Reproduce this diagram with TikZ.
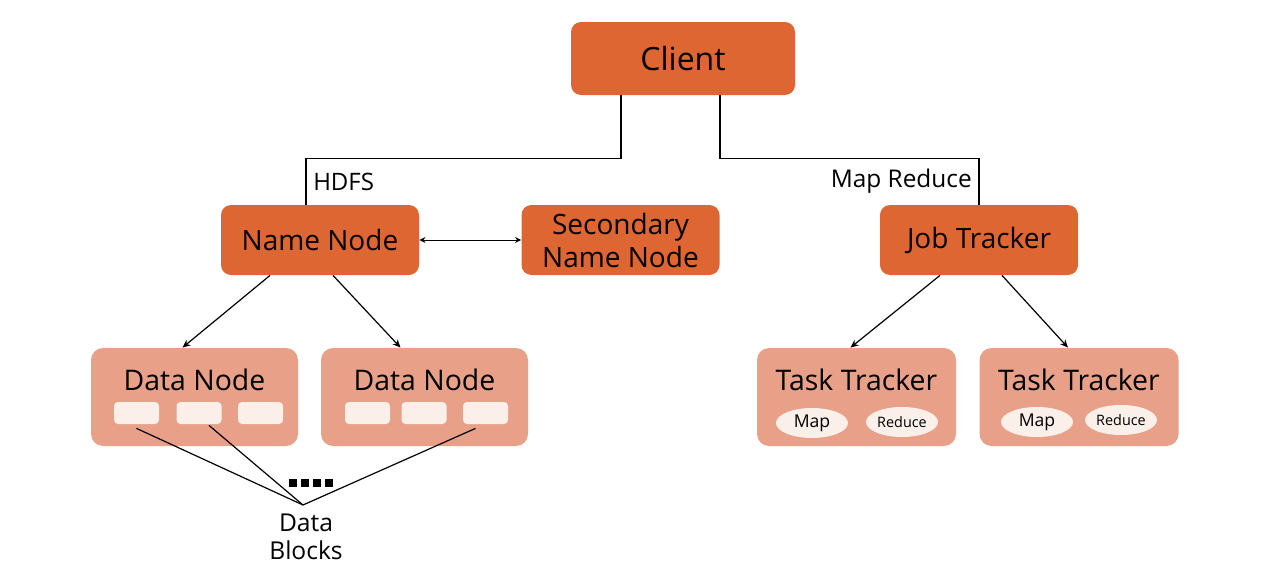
\documentclass[tikz,border=0pt]{standalone}
\usepackage{fontspec}
\setmainfont{Open Sans}
\usepackage{tikz}
\usetikzlibrary{positioning,shapes.geometric,arrows.meta,calc}
\definecolor{hdark}{HTML}{DE6633}
\definecolor{hlight}{HTML}{E8A089}
\definecolor{hpale}{HTML}{FBEFEA}
\tikzset{
  master/.style={draw=none,fill=hdark,rounded corners=5pt,minimum width=99pt,minimum height=35pt,align=center,font=\fontsize{14}{16}\selectfont},
  worker/.style={draw=none,fill=hlight,rounded corners=6pt,minimum width=102pt,minimum height=49pt},
  title/.style={font=\fontsize{14.2}{16}\selectfont},
  block/.style={draw=none,fill=hpale,rounded corners=2pt,minimum width=22.5pt,minimum height=11pt,inner sep=0pt},
  slot/.style={ellipse,draw=none,fill=hpale,minimum width=36pt,minimum height=15pt,inner sep=0pt},
  flow/.style={-{Stealth[length=4pt,width=3.5pt]},line width=0.6pt,draw=black},
  link/.style={line width=0.6pt,draw=black}
}

\begin{document}
\begin{tikzpicture}[x=0.5pt,y=-0.5pt]
\useasboundingbox (0,0) rectangle (1282,578);
% masters
\node[master,minimum width=112pt,minimum height=36.5pt,font=\fontsize{16}{18}\selectfont] (client) at (683,58.5) {Client};
\node[master] (nn) at (320,240) {Name Node};
\node[master,font=\fontsize{14}{16.5}\selectfont] (snn) at (620.5,240) {Secondary\\Name Node};
\node[master] (jt) at (979,240) {Job Tracker};

% data nodes
\node[worker,minimum width=103.5pt] (dn1) at (194.5,397) {};
\node[worker,minimum width=103.5pt] (dn2) at (424.5,397) {};
\node[title] at (194.5,380) {Data Node};
\node[title] at (424.5,380) {Data Node};
\node[block] (b11) at (136.5,413) {};
\node[block] (b12) at (199,413) {};
\node[block] (b13) at (260.5,413) {};
\node[block] (b21) at (367.5,413) {};
\node[block] (b22) at (424,413) {};
\node[block] (b23) at (485.5,413) {};

% task trackers
\node[worker,minimum width=99.5pt] (tt1) at (856.5,397) {};
\node[worker,minimum width=99.5pt] (tt2) at (1079,397) {};
\node[title] at (856.5,380) {Task Tracker};
\node[title] at (1079,380) {Task Tracker};
\node[slot,font=\fontsize{8.8}{10}\selectfont] (m1) at (812,423) {Map};
\node[slot,font=\fontsize{7.2}{8}\selectfont] (r1) at (902,422) {Reduce};
\node[slot,font=\fontsize{8.8}{10}\selectfont] (m2) at (1037,422) {Map};
\node[slot,font=\fontsize{7.2}{8}\selectfont] (r2) at (1121,420) {Reduce};

% data blocks label
\node[align=center,font=\fontsize{12.3}{14}\selectfont,inner sep=1pt] (blocks) at (306,537) {Data\\Blocks};
\coordinate (bj) at (303,505);
\foreach \i in {0,1,2,3}
  \fill ($(289,479)+(\i*12,0)$) rectangle ++(8,8);

% connectors
\draw[link] ([xshift=-31pt]client.south) -- ++(0,63) -| node[pos=.75,right,font=\fontsize{12}{14}\selectfont]{HDFS} ([xshift=-7pt]nn.north);
\draw[link] ([xshift=18.5pt]client.south) -- ++(0,63) -| node[pos=.75,left,font=\fontsize{12.2}{14}\selectfont]{Map Reduce} (jt.north);
\draw[{Stealth[length=3pt,width=3pt]}-{Stealth[length=3pt,width=3pt]},line width=0.5pt] (nn.east) -- (snn.east -| snn.west);
\draw[flow] ([xshift=-25pt]nn.south) -- ([xshift=-6pt]dn1.north);
\draw[flow] ([xshift=6.5pt]nn.south) -- ([xshift=-12pt]dn2.north);
\draw[flow] ([xshift=-19.5pt]jt.south) -- ([xshift=-3pt]tt1.north);
\draw[flow] ([xshift=11.5pt]jt.south) -- ([xshift=-5.5pt]tt2.north);
\draw[link] ([yshift=-2pt]b11.south) -- (bj);
\draw[link] ([xshift=5pt,yshift=-0.5pt]b12.south) -- (bj);
\draw[link] ([xshift=-5pt,yshift=-2pt]b23.south) -- (bj);
\end{tikzpicture}
\end{document}
